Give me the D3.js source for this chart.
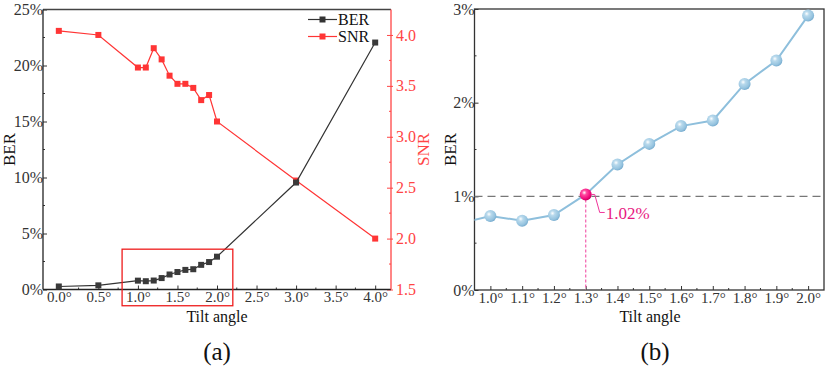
<!DOCTYPE html>
<html><head><meta charset="utf-8">
<script src="https://cdn.jsdelivr.net/npm/d3@7"></script>
<style>body{margin:0;background:#fff}svg{display:block;font-family:"Liberation Serif","Times New Roman",serif}</style>
</head><body><svg id="c" width="827" height="375"></svg>
<script>
const angles = [0, 0.5, 1.0, 1.1, 1.2, 1.3, 1.4, 1.5, 1.6, 1.7, 1.8, 1.9, 2.0, 3.0, 4.0];
const ber = [0.27, 0.37, 0.79, 0.74, 0.80, 1.02, 1.34, 1.56, 1.75, 1.81, 2.20, 2.45, 2.93, 9.55, 22.05];
const snr = [4.04, 4.0, 3.68, 3.68, 3.87, 3.76, 3.60, 3.52, 3.52, 3.48, 3.36, 3.41, 3.15, 2.57, 2.0];
const xTicksA = [0, 0.5, 1, 1.5, 2, 2.5, 3, 3.5, 4];
const yTicksA = [0, 5, 10, 15, 20, 25];
const snrTicks = [1.5, 2.0, 2.5, 3.0, 3.5, 4.0];
const xTicksB = [1.0, 1.1, 1.2, 1.3, 1.4, 1.5, 1.6, 1.7, 1.8, 1.9, 2.0];
const yTicksB = [0, 1, 2, 3];
const threshold = 1;
const highlightAngle = 1.3;
const highlightLabel = "1.02%";
const zoomBox = {x0: 0.8, x1: 2.2, y0: -1.45, y1: 3.6};

const svg = d3.select("#c");
const FS = 16, FSX = 15;
const FONT = '"Liberation Serif","Times New Roman",serif';
const deg = d => d.toFixed(1) + "\u00B0";

// ---------- defs ----------
const defs = svg.append("defs");
function ballGrad(id, c0, c1, c2){
  const g = defs.append("radialGradient").attr("id", id).attr("cx","38%").attr("cy","35%").attr("r","65%");
  g.append("stop").attr("offset","0%").attr("stop-color","#ffffff");
  g.append("stop").attr("offset","30%").attr("stop-color",c0);
  g.append("stop").attr("offset","80%").attr("stop-color",c1);
  g.append("stop").attr("offset","100%").attr("stop-color",c2);
}
ballGrad("gBlue", "#b8d9ec", "#95c3df", "#7aaed0");
ballGrad("gPink", "#ff4aa0", "#f0087a", "#c8005f");

function styleAxis(g, color, fs){
  g.attr("font-family", FONT).attr("font-size", fs);
  g.select(".domain").remove();
  g.selectAll("line").attr("stroke", color);
  g.selectAll("text").attr("fill", color).style("font-size", fs + "px").style("font-family", FONT);
}
const minor = (g, vals, scale, orient, len, color) => {
  g.selectAll(null).data(vals).enter().append("line")
    .attr("x1", d => orient==="x" ? scale(d) : 0).attr("x2", d => orient==="x" ? scale(d) : len)
    .attr("y1", d => orient==="x" ? 0 : scale(d)).attr("y2", d => orient==="x" ? len : scale(d))
    .attr("stroke", color).attr("stroke-width", 1);
};

// ---------- Panel (a) ----------
const L = {l: 43, r: 391, t: 9.5, b: 289.5};
const xA = d3.scaleLinear().domain([-0.2, 4.2]).range([L.l, L.r]);
const yA = d3.scaleLinear().domain([0, 25]).range([L.b, L.t]);
const yS = d3.scaleLinear().domain([1.5, 4.25]).range([L.b, L.t]);
const gA = svg.append("g");

const axB = gA.append("g").attr("transform", `translate(0,${L.b})`)
  .call(d3.axisBottom(xA).tickValues(xTicksA).tickFormat(deg).tickSizeInner(-4).tickSizeOuter(0).tickPadding(2));
styleAxis(axB, "#333", FSX);
minor(axB, d3.range(0.25, 4, 0.5), xA, "x", -2, "#333");
const axL = gA.append("g").attr("transform", `translate(${L.l},0)`)
  .call(d3.axisLeft(yA).tickValues(yTicksA).tickFormat(d => d + "%").tickSizeInner(-4).tickSizeOuter(0).tickPadding(0));
styleAxis(axL, "#333", FS);
minor(axL, d3.range(2.5, 25, 5), yA, "y", 2, "#333");
const axR = gA.append("g").attr("transform", `translate(${L.r},0)`)
  .call(d3.axisRight(yS).tickValues(snrTicks).tickFormat(d => d.toFixed(1)).tickSizeInner(4).tickSizeOuter(0).tickPadding(1));
styleAxis(axR, "#ff4545", FS);
axR.selectAll(".tick line").attr("x1", -4).attr("x2", 2);
minor(axR, d3.range(1.75, 4.25, 0.5), yS, "y", -2, "#ff4545");
gA.append("line").attr("x1", L.l).attr("x2", L.r).attr("y1", L.t).attr("y2", L.t).attr("stroke", "#444").attr("stroke-width", 1.3);
gA.append("line").attr("x1", L.l).attr("x2", L.r).attr("y1", L.b).attr("y2", L.b).attr("stroke", "#222").attr("stroke-width", 1.3);
gA.append("line").attr("x1", L.l).attr("x2", L.l).attr("y1", L.t).attr("y2", L.b).attr("stroke", "#222").attr("stroke-width", 1.3);
gA.append("line").attr("x1", L.r).attr("x2", L.r).attr("y1", L.t).attr("y2", L.b).attr("stroke", "#ff4545").attr("stroke-width", 1.3);

const berPts = angles.map((a, i) => ({a, v: ber[i]}));
const snrPts = angles.map((a, i) => ({a, v: snr[i]}));
gA.append("path").datum(snrPts).attr("fill", "none").attr("stroke", "#ff3535").attr("stroke-width", 1.2)
  .attr("d", d3.line().x(d => xA(d.a)).y(d => yS(d.v)));
gA.selectAll(".sm").data(snrPts).enter().append("rect")
  .attr("x", d => xA(d.a) - 3).attr("y", d => yS(d.v) - 3).attr("width", 6).attr("height", 6).attr("fill", "#ff3535");
gA.append("path").datum(berPts).attr("fill", "none").attr("stroke", "#333").attr("stroke-width", 1.2)
  .attr("d", d3.line().x(d => xA(d.a)).y(d => yA(d.v)));
gA.selectAll(".bm").data(berPts).enter().append("rect")
  .attr("x", d => xA(d.a) - 3).attr("y", d => yA(d.v) - 3).attr("width", 6).attr("height", 6).attr("fill", "#3a3a3a");

gA.append("rect").attr("x", xA(zoomBox.x0)).attr("y", yA(zoomBox.y1))
  .attr("width", xA(zoomBox.x1) - xA(zoomBox.x0)).attr("height", yA(zoomBox.y0) - yA(zoomBox.y1))
  .attr("fill", "none").attr("stroke", "#ee1c1c").attr("stroke-width", 1.3);

const legend = [{name: "BER", c: "#333"}, {name: "SNR", c: "#ff3535"}];
legend.forEach((d, i) => {
  const y = 19.5 + i * 17;
  gA.append("line").attr("x1", 308).attr("x2", 337).attr("y1", y).attr("y2", y).attr("stroke", d.c).attr("stroke-width", 1.2);
  gA.append("rect").attr("x", 319.5).attr("y", y - 3).attr("width", 6).attr("height", 6).attr("fill", d.c);
  gA.append("text").attr("x", 338).attr("y", y + 5).text(d.name).style("font-size", "16px").attr("fill", "#111");
});

gA.append("text").attr("transform", `translate(15,${(L.t + L.b) / 2}) rotate(-90)`).attr("text-anchor", "middle")
  .style("font-size", "17px").attr("fill", "#111").text("BER");
gA.append("text").attr("transform", `translate(429,${(L.t + L.b) / 2}) rotate(-90)`).attr("text-anchor", "middle")
  .style("font-size", "17px").attr("fill", "#ff4545").text("SNR");
gA.append("text").attr("x", 217).attr("y", 322).attr("text-anchor", "middle").style("font-size", "16px").attr("fill", "#111").text("Tilt angle");
gA.append("text").attr("x", 217).attr("y", 360).attr("text-anchor", "middle").style("font-size", "25px").attr("fill", "#111").text("(a)");

// ---------- Panel (b) ----------
const R = {l: 474.5, r: 824, t: 9, b: 290};
const xB = d3.scaleLinear().domain([0.95, 2.05]).range([R.l, R.r]);
const yB = d3.scaleLinear().domain([0, 3]).range([R.b, R.t]);
const gB = svg.append("g");
defs.append("clipPath").attr("id", "clipB").append("rect").attr("x", R.l).attr("y", R.t).attr("width", R.r - R.l).attr("height", R.b - R.t);

const axB2 = gB.append("g").attr("transform", `translate(0,${R.b})`)
  .call(d3.axisBottom(xB).tickValues(xTicksB).tickFormat(deg).tickSizeInner(-4).tickSizeOuter(0).tickPadding(2));
styleAxis(axB2, "#333", FSX);
minor(axB2, d3.range(1.05, 2.0, 0.1), xB, "x", -2, "#333");
const axL2 = gB.append("g").attr("transform", `translate(${R.l},0)`)
  .call(d3.axisLeft(yB).tickValues(yTicksB).tickFormat(d => d + "%").tickSizeInner(-4).tickSizeOuter(0).tickPadding(0));
styleAxis(axL2, "#333", FS);
minor(axL2, [0.5, 1.5, 2.5], yB, "y", 2, "#333");
gB.append("rect").attr("x", R.l).attr("y", R.t).attr("width", R.r - R.l).attr("height", R.b - R.t)
  .attr("fill", "none").attr("stroke", "#333").attr("stroke-width", 1.3);

gB.append("line").attr("x1", R.l).attr("x2", R.r).attr("y1", yB(threshold)).attr("y2", yB(threshold))
  .attr("stroke", "#777").attr("stroke-width", 1.2).attr("stroke-dasharray", "8,5");

const hi = berPts.find(d => Math.abs(d.a - highlightAngle) < 1e-9);
gB.append("line").attr("x1", xB(hi.a)).attr("x2", xB(hi.a)).attr("y1", yB(hi.v)).attr("y2", R.b)
  .attr("stroke", "#f46bb3").attr("stroke-width", 1.3).attr("stroke-dasharray", "3,2");

const clipped = gB.append("g").attr("clip-path", "url(#clipB)");
clipped.append("path").datum(berPts.filter(d => d.a >= 0.5 && d.a <= 2.0)).attr("fill", "none")
  .attr("stroke", "#8ebfdc").attr("stroke-width", 2)
  .attr("d", d3.line().x(d => xB(d.a)).y(d => yB(d.v)));
const inRange = berPts.filter(d => d.a >= 1.0 - 1e-9 && d.a <= 2.0 + 1e-9);
gB.selectAll(".ball").data(inRange).enter().append("circle")
  .attr("cx", d => xB(d.a)).attr("cy", d => yB(d.v)).attr("r", 6)
  .attr("fill", d => d === hi ? "url(#gPink)" : "url(#gBlue)");

const hx = xB(hi.a), hy = yB(hi.v);
gB.append("path").attr("d", `M${hx + 6},${hy} L${hx + 9},${hy} L${hx + 14},${hy + 18} L${hx + 19},${hy + 18}`)
  .attr("fill", "none").attr("stroke", "#f0359a").attr("stroke-width", 1);
gB.append("text").attr("x", hx + 20).attr("y", hy + 25).style("font-size", "17px").attr("fill", "#e8197f").text(highlightLabel);

gB.append("text").attr("transform", `translate(456,${(R.t + R.b) / 2}) rotate(-90)`).attr("text-anchor", "middle")
  .style("font-size", "17px").attr("fill", "#111").text("BER");
gB.append("text").attr("x", 650).attr("y", 322).attr("text-anchor", "middle").style("font-size", "16px").attr("fill", "#111").text("Tilt angle");
gB.append("text").attr("x", 655).attr("y", 360).attr("text-anchor", "middle").style("font-size", "25px").attr("fill", "#111").text("(b)");
</script></body></html>
